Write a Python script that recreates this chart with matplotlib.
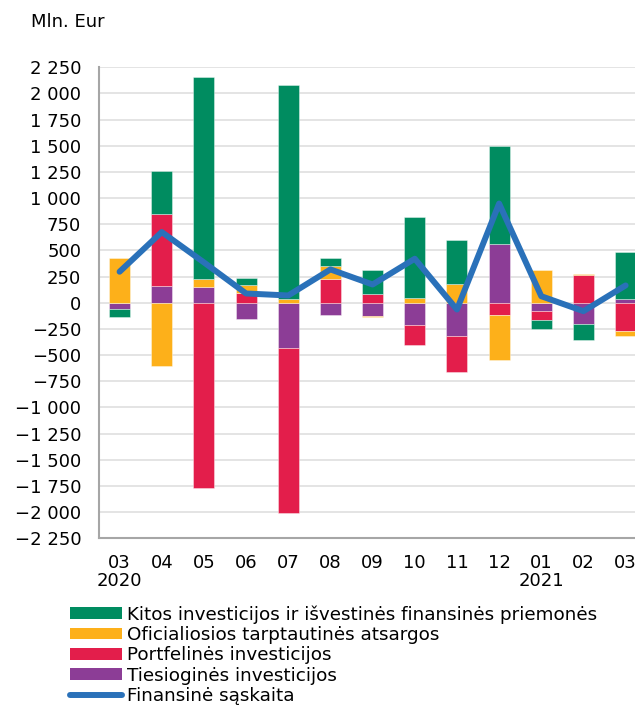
import matplotlib
matplotlib.use("Agg")
import matplotlib.pyplot as plt
import numpy as np
from matplotlib.patches import Patch
from matplotlib.lines import Line2D

months = ["03", "04", "05", "06", "07", "08", "09", "10", "11", "12", "01", "02", "03"]
years = ["2020", "", "", "", "", "", "", "", "", "", "2021", "", ""]

tiesiogines = [-57, 159, 150, -153, -431, -112, -122, -208, -320, 565, -74, -198, 38]
portfelines = [0, 693, -1769, 96, -1578, 223, 86, -192, -345, -112, -86, 264, -272]
oficialiosios = [424, -600, 73, 77, 41, 128, -12, 48, 175, -434, 316, 8, -48]
kitos = [-75, 412, 1932, 67, 2040, 73, 223, 776, 428, 929, -89, -154, 447]
finansine = [297, 676, 386, 89, 70, 319, 175, 421, -64, 948, 63, -80, 166]

series = [
    ("Tiesioginės investicijos", tiesiogines, "#8C3D96"),
    ("Portfelinės investicijos", portfelines, "#E31E4B"),
    ("Oficialiosios tarptautinės atsargos", oficialiosios, "#FDB01A"),
    ("Kitos investicijos ir išvestinės finansinės priemonės", kitos, "#008C60"),
]
line_color = "#2A71B9"

plt.rcParams['font.family'] = ['DejaVu Sans']
FS = 13

fig = plt.figure(figsize=(6.35, 7.08), dpi=100)
ax = fig.add_axes([98.5 / 635, 1 - 538.3 / 708, (646.7 - 98.5) / 635, (538.3 - 67.3) / 708])

x = np.arange(len(months))
pos_base = np.zeros(len(months))
neg_base = np.zeros(len(months))
for name, vals, col in series:
    v = np.array(vals, dtype=float)
    bottoms = np.where(v >= 0, pos_base, neg_base)
    ax.bar(x, v, width=0.5, bottom=bottoms, color=col, edgecolor=(1, 1, 1, 0.45),
           linewidth=0.6, zorder=2)
    pos_base += np.where(v >= 0, v, 0)
    neg_base += np.where(v < 0, v, 0)

ax.plot(x, finansine, color=line_color, linewidth=4.3, solid_joinstyle='round',
        solid_capstyle='round', zorder=3)

ax.set_xlim(-0.5, len(months) - 0.5)
ax.set_ylim(-2250, 2250)
yt = np.arange(-2250, 2251, 250)
ax.set_yticks(yt)
ax.set_yticklabels([("−" if t < 0 else "") + f"{abs(t):,}".replace(",", " ") for t in yt], fontsize=FS)
ax.set_xticks(x)
ax.set_xticklabels([m + ("\n" + y if y else "") for m, y in zip(months, years)], fontsize=FS,
                   linespacing=1.05, va='top')
ax.tick_params(axis='both', length=0)
ax.tick_params(axis='y', pad=12.5)
ax.tick_params(axis='x', pad=11)

ax.grid(axis='y', color='#E4E4E4', linewidth=1.4, zorder=0)
ax.set_axisbelow(True)
for s in ['top', 'right']:
    ax.spines[s].set_visible(False)
for s in ['left', 'bottom']:
    ax.spines[s].set_color('#A6A6A6')
    ax.spines[s].set_linewidth(1.5)

fig.text(31 / 635, 1 - 22 / 708, "Mln. Eur", fontsize=FS, va='center', ha='left')

handles = [Patch(facecolor=c, edgecolor='none') for _, _, c in series[::-1]]
labels = [n for n, _, _ in series[::-1]]
handles.append(Line2D([0], [0], color=line_color, linewidth=4.3, solid_capstyle='round'))
labels.append("Finansinė sąskaita")
fig.legend(handles, labels, loc='upper left', bbox_to_anchor=(70 / 635, 1 - 605 / 708),
           frameon=False, fontsize=13.2, handlelength=2.85, handleheight=0.6,
           handletextpad=0.25, labelspacing=0.13, borderpad=0, borderaxespad=0)

fig.savefig("out.png", dpi=100)
